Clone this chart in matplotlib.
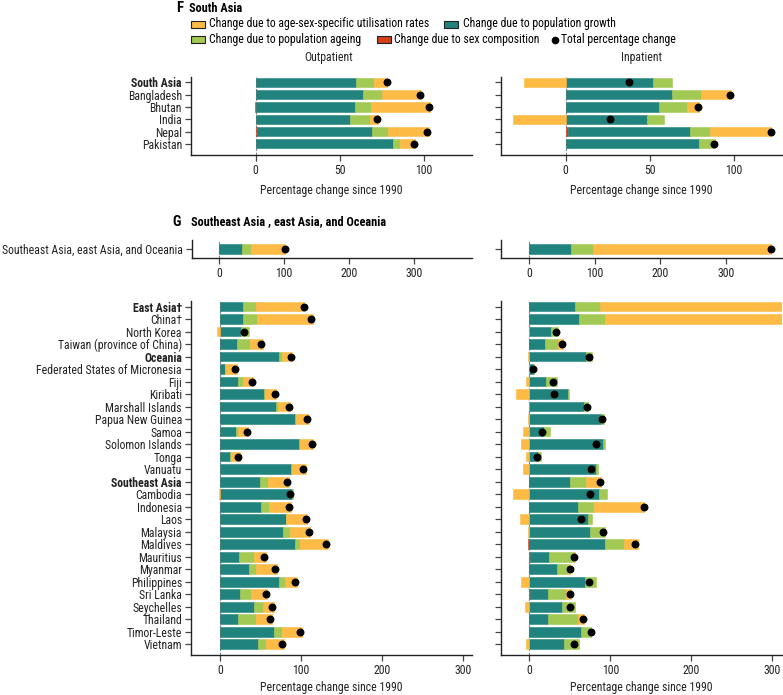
import matplotlib
matplotlib.use("Agg")
import matplotlib.pyplot as plt
import matplotlib.font_manager as fm
from matplotlib.patches import Rectangle
from matplotlib.lines import Line2D
import numpy as np

# ---------------- data ----------------
sa_labels = ["South Asia", "Bangladesh", "Bhutan", "India", "Nepal", "Pakistan"]
sa_bold = ["South Asia"]
sa_out_red = [0, 0.2, -0.5, 0, 0.8, 0.2]
sa_out_growth = [59.6, 63.6, 59.2, 56.0, 68.4, 81.2]
sa_out_ageing = [11.0, 11.6, 9.2, 12.0, 9.4, 4.6]
sa_out_util = [7.4, 23.2, 35.4, 4.8, 24.4, 8.8]
sa_out_total = [78, 98, 103, 72, 102, 94]

sa_in_red = [0, 0, 0, 0, 1.6, 0]
sa_in_growth = [52.2, 63.5, 55.4, 48.2, 72.1, 79.3]
sa_in_ageing = [10.8, 17.0, 16.6, 10.4, 12.0, 9.1]
sa_in_util = [-25.0, 17.9, 7.5, -31.5, 36.6, 0.4]
sa_in_total = [37.5, 98, 79, 26.5, 122, 88]

agg_labels = ["Southeast Asia, east Asia, and Oceania"]
agg_out_red = [0]
agg_out_growth = [34.9]
agg_out_ageing = [14.8]
agg_out_util = [51.3]
agg_out_total = [102]
agg_in_red = [0]
agg_in_growth = [63.1]
agg_in_ageing = [33.6]
agg_in_util = [272.3]
agg_in_total = [368]

g_labels = ["East Asia\u2020", "China\u2020", "North Korea", "Taiwan (province of China)",
            "Oceania", "Federated States of Micronesia", "Fiji", "Kiribati",
            "Marshall Islands", "Papua New Guinea", "Samoa", "Solomon Islands", "Tonga",
            "Vanuatu", "Southeast Asia", "Cambodia", "Indonesia", "Laos", "Malaysia",
            "Maldives", "Mauritius", "Myanmar", "Philippines", "Sri Lanka", "Seychelles",
            "Thailand", "Timor-Leste", "Vietnam"]
g_bold = ["East Asia\u2020", "Oceania", "Southeast Asia"]

g_out_red = [0, 0, 0, 0, 0, 0, 0, 0, 0, 0, 0, 0, 0, 0, 0, 0, 0, 0, 0, 0, 0, 0, 0,
             0.3, -0.5, 0, 0, 0]
g_out_growth = [28.0, 28.8, 25.5, 20.6, 73.3, 5.8, 22.2, 54.7, 69.5, 92.2, 20.2, 98.0,
                11.9, 87.7, 49.4, 88.9, 50.6, 81.5, 77.4, 93.0, 23.9, 36.2, 72.8, 23.9,
                42.0, 22.6, 67.0, 46.9]
g_out_ageing = [16.4, 16.9, 9.9, 16.8, 3.2, 0.5, 6.2, 0.8, 2.5, 1.6, 2.0, 1.2, 1.3, 1.2,
                9.4, 0.8, 9.4, 0.3, 9.0, 5.8, 18.1, 7.8, 7.4, 14.4, 10.7, 22.3, 9.1, 9.5]
g_out_util = [59.3, 68.7, -3.7, 15.3, 12.4, 14.7, 12.6, 14.0, 14.4, 16.1, 12.8, 16.0,
              11.5, 16.9, 26.8, -1.2, 27.7, 26.0, 24.6, 34.1, 14.8, 26.0, 14.5, 19.3,
              14.3, 18.9, 24.7, 23.0]
g_out_total = [104, 112, 29, 51, 87, 19, 39.5, 67.5, 84.8, 107.4, 33, 113, 22.6, 102.9,
               83, 86.4, 85.2, 106, 109.5, 130.9, 54.7, 67.9, 92.6, 56.4, 64.6, 62.1,
               99.2, 77]

g_in_red = [0, 0, 0, 0, 0, 0, 0, 0, 0, 0, 0, 0, 0, -0.5, 0, -0.5, 0, 0, 0, -2.0, 0.3,
            0, 0, 0.3, 0, 0, 0, 0]
g_in_growth = [56.6, 61.2, 26.4, 19.4, 70.2, 5.0, 21.1, 48.3, 67.8, 88.4, 18.6, 90.9,
               10.7, 81.8, 50.8, 85.5, 59.5, 72.3, 74.4, 93.0, 24.4, 33.9, 68.6, 22.3,
               40.1, 22.7, 63.2, 43.4]
g_in_ageing = [30.2, 32.6, 8.7, 16.6, 6.7, 0.4, 12.8, 0.9, 4.5, 4.2, 7.0, 2.5, 3.3, 2.9,
               19.4, 10.4, 19.8, 4.6, 19.4, 23.5, 30.1, 13.6, 13.6, 22.3, 16.1, 37.2,
               13.2, 17.8]
g_in_util = [330, 345, -1.0, 6.1, -2.0, -0.3, -4.1, -16.5, -0.5, -1.2, -7.9, -9.9, -3.7,
             -7.4, 18.6, -19.4, 62.8, -12.0, -1.2, 18.2, 1.3, 2.5, -10.3, 7.1, -5.4, 7.5,
             0, -4.1]
g_in_total = [415, 438, 33, 40.5, 73.6, 4.5, 29, 31, 71.5, 90, 16.1, 82.6, 9.1, 76, 87.6,
              74.4, 141, 63.6, 90.9, 131, 55, 49.6, 73.6, 50, 50.4, 65.7, 75.6, 55.4]

C_UTIL = "#FDBA45"
C_GROWTH = "#21837E"
C_AGEING = "#A3C955"
C_SEX = "#D33F1B"
ZERO_C = "#6f8795"

# ---------------- font choice: prefer a condensed face ----------------
entries = [(f.name, str(f.stretch)) for f in fm.fontManager.ttflist]
chosen = None
pref = ["Liberation Sans Narrow", "Roboto Condensed", "Open Sans Condensed",
        "Noto Sans Condensed", "DejaVu Sans Condensed", "Arial Narrow"]
names = {n for n, s in entries}
for p in pref:
    if p in names:
        chosen = (p, "normal")
        break
if chosen is None:
    for n, s in entries:
        if s in ("condensed", "semi-condensed", "extra-condensed") and \
                n in ("Noto Sans", "DejaVu Sans", "Roboto", "Open Sans", "Liberation Sans"):
            chosen = (n, s)
            break
if chosen is None:
    for n, s in entries:
        if ("Narrow" in n or "Condensed" in n) and "Mono" not in n and "Serif" not in n:
            chosen = (n, "normal")
            break
if chosen is None:
    chosen = ("Liberation Sans", "normal")
plt.rcParams['font.family'] = [chosen[0], 'Liberation Sans', 'DejaVu Sans']
plt.rcParams['font.stretch'] = chosen[1]

W, H = 783, 695
fig = plt.figure(figsize=(W / 100, H / 100), dpi=100)
renderer = fig.canvas.get_renderer()

# size so the longest label fits the space left of the axes
TFS = 8.6
probe = fig.text(0, 0, "Southeast Asia, east Asia, and Oceania", fontsize=TFS)
wpx = probe.get_window_extent(renderer).width
probe.remove()
if wpx > 180:
    TFS = max(6.0, TFS * 180 / wpx)


def rect(x0, y0, x1, y1):
    return [x0 / W, 1 - y1 / H, (x1 - x0) / W, (y1 - y0) / H]


def draw(ax, labels, red, growth, ageing, util, total, xlim, ylim, xticks,
         show_labels, bold, barh_h=0.76):
    n = len(labels)
    y = np.arange(n)
    pos = np.zeros(n)
    neg = np.zeros(n)
    for vals, col in [(red, C_SEX), (growth, C_GROWTH), (ageing, C_AGEING), (util, C_UTIL)]:
        v = np.asarray(vals, dtype=float)
        left = np.where(v >= 0, pos, neg)
        ax.barh(y, v, left=left, height=barh_h, color=col, edgecolor=col,
                linewidth=0.4, zorder=2)
        pos = pos + np.where(v >= 0, v, 0)
        neg = neg + np.where(v < 0, v, 0)
    ax.axvline(0, color=ZERO_C, ls=(0, (2.5, 1.6)), lw=0.8, zorder=1)
    ax.scatter(total, y, s=22, color="black", zorder=3)
    ax.set_xlim(*xlim)
    ax.set_ylim(*ylim)
    ax.set_xticks(xticks)
    ax.set_xticklabels([str(t) for t in xticks], fontsize=TFS, color="#222222")
    ax.set_yticks(y)
    if show_labels:
        ax.set_yticklabels(labels, fontsize=TFS, color="#222222")
        for t in ax.get_yticklabels():
            if t.get_text() in bold:
                t.set_fontweight("bold")
    else:
        ax.set_yticklabels([])
    for s in ["top", "right"]:
        ax.spines[s].set_visible(False)
    for s in ["left", "bottom"]:
        ax.spines[s].set_linewidth(1.0)
        ax.spines[s].set_color("#222222")
    ax.tick_params(axis="both", length=4.5, width=0.9, color="#444444", pad=2)
    ax.set_facecolor("none")


# Panel F
ax1 = fig.add_axes(rect(191, 77, 472, 155))
draw(ax1, sa_labels, sa_out_red, sa_out_growth, sa_out_ageing, sa_out_util, sa_out_total,
     (-38.5, 128.7), (5.9, -0.44), [0, 50, 100], True, sa_bold, 0.74)
ax2 = fig.add_axes(rect(501, 77, 782, 155))
draw(ax2, sa_labels, sa_in_red, sa_in_growth, sa_in_ageing, sa_in_util, sa_in_total,
     (-38.5, 128.7), (5.9, -0.44), [0, 50, 100], False, sa_bold, 0.74)
for ax in (ax1, ax2):
    ax.set_xlabel("Percentage change since 1990", fontsize=TFS, labelpad=5, color="#222222")

# Panel G aggregate
ax3 = fig.add_axes(rect(191.5, 240, 472, 258.3))
draw(ax3, agg_labels, agg_out_red, agg_out_growth, agg_out_ageing, agg_out_util,
     agg_out_total, (-42.5, 389), (0.74, -0.72), [0, 100, 200, 300], True, [], 0.78)
ax4 = fig.add_axes(rect(501, 240, 783, 258.3))
draw(ax4, agg_labels, agg_in_red, agg_in_growth, agg_in_ageing, agg_in_util,
     agg_in_total, (-43.2, 387), (0.74, -0.72), [0, 100, 200, 300], False, [], 0.78)

# Panel G countries
ax5 = fig.add_axes(rect(191, 301, 472, 655))
draw(ax5, g_labels, g_out_red, g_out_growth, g_out_ageing, g_out_util, g_out_total,
     (-35.8, 311), (27.86, -0.44), [0, 100, 200, 300], True, g_bold, 0.78)
ax6 = fig.add_axes(rect(501, 301, 782, 655))
draw(ax6, g_labels, g_in_red, g_in_growth, g_in_ageing, g_in_util, g_in_total,
     (-35, 312), (27.86, -0.44), [0, 100, 200, 300], False, g_bold, 0.78)
for ax in (ax5, ax6):
    ax.set_xlabel("Percentage change since 1990", fontsize=TFS, labelpad=3, color="#222222")


def ft(x, y, s, **kw):
    fig.text(x / W, 1 - y / H, s, **kw)


ft(176, 8, "F", fontsize=10.5, fontweight="bold", va="center", ha="left")
ft(189, 8, "South Asia", fontsize=TFS * 1.05, fontweight="bold", va="center", ha="left")
ft(172, 222, "G", fontsize=10.5, fontweight="bold", va="center", ha="left")
ft(191, 222, "Southeast Asia , east Asia, and Oceania", fontsize=TFS * 1.05,
   fontweight="bold", va="center", ha="left")
ft(329, 58, "Outpatient", fontsize=TFS, ha="center", va="center", color="#222222")
ft(641, 58, "Inpatient", fontsize=TFS, ha="center", va="center", color="#222222")


def patch(x0, y0, col):
    fig.patches.append(Rectangle((x0 / W, 1 - (y0 + 7) / H), 14 / W, 7 / H,
                                 transform=fig.transFigure, facecolor=col,
                                 edgecolor="#222222", linewidth=0.8))


# legend: positions follow the text widths where needed
t1 = fig.text(209 / W, 1 - 24 / H, "Change due to age-sex-specific utilisation rates",
              fontsize=TFS, va="center")
patch(191, 20.5, C_UTIL)
e1 = t1.get_window_extent(renderer).x1
x_g = max(444, e1 + 8)
patch(x_g, 20.5, C_GROWTH)
ft(x_g + 19, 24, "Change due to population growth", fontsize=TFS, va="center")

patch(191, 36, C_AGEING)
t2 = fig.text(209 / W, 1 - 39.5 / H, "Change due to population ageing", fontsize=TFS,
              va="center")
e2 = t2.get_window_extent(renderer).x1
x_r = max(377, e2 + 7)
patch(x_r, 36, C_SEX)
t3 = fig.text((x_r + 17) / W, 1 - 39.5 / H, "Change due to sex composition", fontsize=TFS,
              va="center")
e3 = t3.get_window_extent(renderer).x1
x_d = max(554.5, e3 + 10)
fig.lines.append(Line2D([x_d / W], [1 - 40 / H], marker="o", markersize=4.5,
                        color="black", transform=fig.transFigure))
ft(x_d + 6.5, 39.5, "Total percentage change", fontsize=TFS, va="center")

fig.savefig("out.png", dpi=100)
